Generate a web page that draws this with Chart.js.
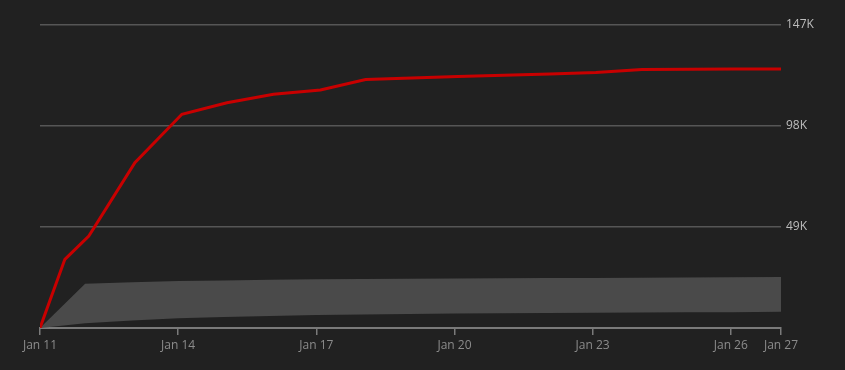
<!DOCTYPE html>
<html>
<head>
<meta charset="utf-8">
<script src="https://cdn.jsdelivr.net/npm/chart.js@4/dist/chart.umd.min.js"></script>
<style>
  html, body { margin: 0; padding: 0; background: #212121; }
  #c { display: block; }
</style>
</head>
<body>
<canvas id="c" width="845" height="370"></canvas>
<script>
// Days since Jan 11 (x positions), values in thousands
const redDays   = [0, 0.54, 1.06, 2.06, 3.08, 4.06, 5.07, 6.09, 7.07, 8.07, 9.07, 10.07, 11.07, 12.07, 13.07, 14.07, 15.07, 16.09];
const redValues = [0, 33.3, 44.6, 80.2, 103.7, 109.3, 113.4, 115.5, 120.6, 121.3, 122.0, 122.6, 123.2, 124.0, 125.4, 125.5, 125.6, 125.7];

const bandDays  = [0, 0.98, 2, 3, 4, 5, 6, 7, 8, 9, 10, 11, 12, 13, 14, 15, 16.09];
const bandUpper = [0, 21.5, 22.2, 22.8, 23.1, 23.4, 23.6, 23.8, 23.9, 24.0, 24.1, 24.2, 24.3, 24.4, 24.5, 24.6, 24.7];
const bandLower = [0, 2.3, 3.6, 4.7, 5.3, 5.8, 6.3, 6.6, 6.8, 7.0, 7.2, 7.3, 7.4, 7.5, 7.6, 7.7, 7.9];

const tickDays   = [0, 3, 6, 9, 12, 15, 16.09];
const tickLabels = ['Jan 11', 'Jan 14', 'Jan 17', 'Jan 20', 'Jan 23', 'Jan 26', 'Jan 27'];
const yTicks     = [49, 98, 147];
const yLabels    = ['49K', '98K', '147K'];

const toPts = (xs, ys) => xs.map((x, i) => ({ x: x, y: ys[i] }));

new Chart(document.getElementById('c'), {
  type: 'line',
  data: {
    datasets: [
      {
        data: toPts(redDays, redValues),
        borderColor: '#c80000',
        borderWidth: 3,
        pointRadius: 0,
        tension: 0,
        fill: false
      },
      {
        data: toPts(bandDays, bandLower),
        borderWidth: 0,
        borderColor: 'rgba(0,0,0,0)',
        pointRadius: 0,
        tension: 0,
        fill: false
      },
      {
        data: toPts(bandDays, bandUpper),
        borderWidth: 0,
        borderColor: 'rgba(0,0,0,0)',
        backgroundColor: '#4a4a4a',
        pointRadius: 0,
        tension: 0,
        fill: '-1'
      }
    ]
  },
  options: {
    responsive: false,
    animation: false,
    layout: { padding: { left: 40, top: 25, right: 0, bottom: 0 } },
    plugins: { legend: { display: false }, tooltip: { enabled: false } },
    scales: {
      x: {
        type: 'linear',
        min: 0,
        max: 16.09,
        afterBuildTicks: (axis) => { axis.ticks = tickDays.map(v => ({ value: v })); },
        afterFit: (axis) => { axis.height = 42; },
        ticks: {
          autoSkip: false,
          maxRotation: 0,
          padding: 3,
          color: '#8c8c8c',
          font: { family: 'Open Sans', size: 12 },
          callback: (v) => { const i = tickDays.indexOf(v); return i >= 0 ? tickLabels[i] : ''; }
        },
        grid: { drawOnChartArea: false, drawTicks: true, tickLength: 7, color: '#7a7a7a', lineWidth: 1.5 },
        border: { display: true, color: '#7a7a7a', width: 2 }
      },
      y: {
        position: 'right',
        min: 0,
        max: 147,
        afterBuildTicks: (axis) => { axis.ticks = [0].concat(yTicks).map(v => ({ value: v })); },
        afterFit: (axis) => { axis.width = 64; },
        ticks: {
          padding: 5,
          color: '#bdbdbd',
          font: { family: 'Open Sans', size: 12 },
          callback: (v) => { const i = yTicks.indexOf(v); return i >= 0 ? yLabels[i] : ''; }
        },
        grid: { drawTicks: false, color: (ctx) => ctx.tick && ctx.tick.value === 0 ? 'rgba(0,0,0,0)' : '#565656', lineWidth: 1.5 },
        border: { display: false }
      }
    }
  }
});
</script>
</body>
</html>
